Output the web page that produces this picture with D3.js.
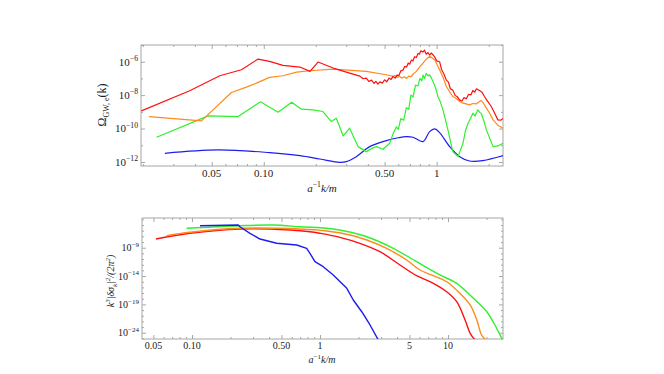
<!DOCTYPE html>
<html>
<head>
<meta charset="utf-8">
<script src="https://cdn.jsdelivr.net/npm/d3@7"></script>
<style>
  body { margin: 0; background: #fff; }
  text { font-family: "Liberation Serif", "Times New Roman", serif; fill: #222; }
</style>
</head>
<body>
<svg id="chart" width="664" height="374"></svg>
<script>
// ---- top panel: Omega_GW,e(k), values as log10 ----
const kRedTop = [0.0196, 0.0373, 0.0557, 0.0743, 0.0927, 0.108, 0.129, 0.162, 0.185, 0.206, 0.252, 0.314,
  0.36, 0.375, 0.392, 0.405, 0.42, 0.435, 0.445, 0.458, 0.47, 0.485, 0.50, 0.515, 0.53, 0.545, 0.56, 0.575,
  0.59, 0.605, 0.62, 0.639, 0.655, 0.67, 0.685, 0.698, 0.715, 0.73, 0.745, 0.763, 0.78, 0.795, 0.81, 0.834,
  0.85, 0.87, 0.891, 0.91, 0.93, 0.952, 0.975, 1.0, 1.04, 1.07, 1.10, 1.138, 1.17, 1.2, 1.24, 1.28, 1.32,
  1.36, 1.40, 1.44, 1.485, 1.53, 1.58, 1.62, 1.66, 1.70, 1.77, 1.83, 1.89, 1.95, 2.07, 2.17, 2.26, 2.35, 2.42];
const logRedTop = [-8.94, -7.74, -6.84, -6.48, -5.84, -5.98, -6.22, -6.32, -6.58, -6.02, -6.38, -6.68,
  -6.86, -7.02, -6.98, -7.18, -7.10, -7.30, -7.18, -7.34, -7.20, -7.28, -7.08, -7.20, -6.98, -7.06, -6.88, -6.98,
  -6.80, -6.82, -6.55, -6.50, -6.28, -6.32, -6.08, -6.15, -5.90, -5.95, -5.70, -5.75, -5.50, -5.55, -5.35, -5.42,
  -5.30, -5.55, -5.45, -5.60, -5.48, -5.58, -5.72, -5.95, -6.00, -6.50, -6.72, -7.10, -7.22, -7.62, -7.70, -8.02, -8.10,
  -8.30, -8.35, -8.15, -8.22, -7.95, -7.98, -7.72, -7.82, -7.62, -7.72, -7.82, -8.08, -8.30, -8.68, -9.10, -9.48, -9.50, -9.40];

const kOrangeTop = [0.0217, 0.0436, 0.065, 0.0794, 0.0907, 0.108, 0.129, 0.155, 0.185, 0.252, 0.392, 0.512,
  0.56, 0.575, 0.59, 0.611, 0.63, 0.65, 0.67, 0.69, 0.71, 0.73, 0.763, 0.80, 0.834, 0.87, 0.911, 0.974, 1.04,
  1.09, 1.138, 1.19, 1.24, 1.30, 1.36, 1.42, 1.48, 1.55, 1.62, 1.70, 1.76, 1.81, 1.87, 1.94, 2.03, 2.12, 2.26, 2.42];
const logOrangeTop = [-9.28, -9.54, -7.84, -7.52, -7.28, -6.94, -6.84, -6.62, -6.54, -6.44, -6.58, -6.78,
  -6.88, -6.82, -6.94, -6.88, -6.98, -6.90, -7.00, -6.86, -6.90, -6.75, -6.58, -6.30, -6.08, -5.85, -5.68, -5.88, -6.48,
  -6.95, -7.48, -7.80, -8.08, -8.20, -8.38, -8.48, -8.52, -8.58, -8.50, -8.52, -8.40, -8.32, -8.50, -8.78, -9.10, -9.48, -9.80, -9.98];

const kGreenTop = [0.024, 0.0477, 0.0711, 0.0957, 0.121, 0.145, 0.165, 0.193, 0.22, 0.246, 0.263, 0.288, 0.314,
  0.351, 0.392, 0.42, 0.448, 0.49, 0.535, 0.56, 0.585, 0.60, 0.62, 0.645, 0.668, 0.69, 0.71, 0.730, 0.755, 0.780,
  0.80, 0.82, 0.834, 0.85, 0.87, 0.891, 0.91, 0.93, 0.952, 0.985, 1.017, 1.05, 1.088, 1.162, 1.24, 1.33, 1.42,
  1.47, 1.52, 1.57, 1.62, 1.67, 1.73, 1.78, 1.81, 1.87, 1.94, 2.12, 2.26, 2.42];
const logGreenTop = [-10.52, -9.24, -9.28, -8.40, -9.02, -8.42, -8.84, -8.88, -8.98, -9.58, -9.38, -10.44, -9.98,
  -11.08, -11.38, -11.20, -11.08, -11.24, -10.88, -10.30, -9.90, -10.05, -9.40, -9.50, -8.75, -8.85, -8.00, -8.10, -7.40, -7.45,
  -7.00, -7.15, -6.80, -7.00, -6.70, -6.85, -6.78, -6.95, -7.18, -7.55, -8.08, -8.40, -8.88, -10.08, -11.38, -11.68, -10.88,
  -10.10, -9.68, -9.40, -9.08, -9.25, -8.88, -9.05, -9.08, -9.50, -10.08, -11.08, -11.04, -10.88];

const kBlueTop = [0.0268, 0.0544, 0.108, 0.162, 0.211, 0.275, 0.30, 0.343, 0.41, 0.512, 0.60, 0.668, 0.730,
  0.834, 0.911, 0.974, 1.04, 1.19, 1.36, 1.55, 1.85, 2.42];
const logBlueTop = [-11.48, -11.28, -11.44, -11.62, -11.82, -12.02, -11.98, -11.68, -11.08, -10.72, -10.55, -10.48, -10.52,
  -10.78, -10.18, -10.02, -10.24, -11.08, -11.68, -11.94, -11.92, -11.62];

// ---- bottom panel: k^3 |delta sigma_k|^2 / (2 pi^2), values as log10 ----
const kRedBot = [0.0523, 0.0965, 0.237, 0.583, 0.835, 1.0, 1.43, 2.05, 2.94, 4.22, 5.69, 7.68, 9.77, 11.7, 13.6, 14.9, 16.3];
const logRedBot = [-7.47, -6.46, -5.70, -5.88, -6.18, -6.46, -7.17, -8.22, -9.70, -12.05, -13.94, -15.28, -16.76, -18.52, -21.75, -24.1, -25.3];
const kOrangeBot = [0.0634, 0.0965, 0.237, 0.698, 1.13, 1.72, 2.32, 3.32, 4.75, 6.04, 7.68, 9.77, 12.4, 14.9, 16.8, 18.3, 19.8];
const logOrangeBot = [-6.88, -6.28, -5.58, -5.70, -6.05, -6.76, -7.64, -9.11, -11.17, -12.93, -13.94, -15.0, -17.04, -19.1, -21.75, -24.4, -25.3];
const kGreenBot = [0.0908, 0.237, 0.432, 0.698, 1.27, 2.32, 3.74, 5.69, 8.66, 11.7, 15.8, 20.1, 24.0, 26.7];
const logGreenBot = [-5.58, -5.12, -5.0, -5.30, -5.70, -7.06, -9.11, -11.47, -13.81, -15.28, -17.92, -20.29, -23.22, -25.3];
const kBlueBot = [0.1155, 0.23, 0.237, 0.284, 0.34, 0.459, 0.658, 0.787, 0.835, 0.914, 1.06, 1.27, 1.62, 1.82, 2.12, 2.46, 2.86];
const logBlueBot = [-5.12, -5.0, -5.30, -6.46, -7.47, -8.22, -8.52, -9.11, -9.99, -11.47, -12.35, -13.81, -16.16, -18.22, -20.29, -22.63, -25.3];

// ticks
const topXMajor = [0.05, 0.1, 0.5, 1];
const topXLabels = ["0.05", "0.10", "0.50", "1"];
const topXMinor = [0.02, 0.03, 0.04, 0.06, 0.07, 0.08, 0.09, 0.2, 0.3, 0.4, 0.6, 0.7, 0.8, 0.9, 2];
const topYMajorExp = [-6, -8, -10, -12];
const topYMinorExp = [-5, -7, -9, -11];

const botXMajor = [0.05, 0.1, 0.5, 1, 5, 10];
const botXLabels = ["0.05", "0.10", "0.50", "1", "5", "10"];
const botXMinor = [0.06, 0.07, 0.08, 0.09, 0.2, 0.3, 0.4, 0.6, 0.7, 0.8, 0.9, 2, 3, 4, 6, 7, 8, 9, 20];
const botYMajorExp = [-9, -14, -19, -24];
const botYMinorExp = [-4, -5, -6, -7, -8, -10, -11, -12, -13, -15, -16, -17, -18, -20, -21, -22, -23, -25];

const svg = d3.select("#chart");
const frameColor = "#a6a6a6";

function panel(cfg) {
  const x = d3.scaleLog().domain(cfg.xDomain).range([cfg.left, cfg.right]);
  const y = d3.scaleLog().domain(cfg.yDomain).range([cfg.bottom, cfg.top]);
  const g = svg.append("g");

  g.append("clipPath").attr("id", cfg.id)
    .append("rect")
    .attr("x", cfg.left).attr("y", cfg.top)
    .attr("width", cfg.right - cfg.left).attr("height", cfg.bottom - cfg.top);

  function ticks(axisFn, scale, vals, size, tr) {
    g.append("g").attr("transform", tr)
      .call(axisFn(scale).tickValues(vals).tickSize(size).tickFormat(""))
      .call(a => a.select(".domain").remove())
      .selectAll("line").attr("stroke", frameColor);
  }
  const yMaj = cfg.yMajorExp.map(e => Math.pow(10, e));
  const yMin = cfg.yMinorExp.map(e => Math.pow(10, e));
  ticks(d3.axisBottom, x, cfg.xMajor, -4, `translate(0,${cfg.bottom})`);
  ticks(d3.axisBottom, x, cfg.xMinor, -2, `translate(0,${cfg.bottom})`);
  ticks(d3.axisTop, x, cfg.xMajor, -4, `translate(0,${cfg.top})`);
  ticks(d3.axisTop, x, cfg.xMinor, -2, `translate(0,${cfg.top})`);
  ticks(d3.axisLeft, y, yMaj, -4, `translate(${cfg.left},0)`);
  ticks(d3.axisLeft, y, yMin, -2, `translate(${cfg.left},0)`);
  ticks(d3.axisRight, y, yMaj, -4, `translate(${cfg.right},0)`);
  ticks(d3.axisRight, y, yMin, -2, `translate(${cfg.right},0)`);

  g.append("rect")
    .attr("x", cfg.left).attr("y", cfg.top)
    .attr("width", cfg.right - cfg.left).attr("height", cfg.bottom - cfg.top)
    .attr("fill", "none").attr("stroke", frameColor).attr("stroke-width", 1);

  // x tick labels
  g.selectAll(".xl").data(cfg.xMajor).enter().append("text")
    .attr("x", d => x(d)).attr("y", cfg.bottom + cfg.xLabelDy)
    .attr("text-anchor", "middle").attr("font-size", cfg.fs)
    .text((d, i) => cfg.xLabels[i]);

  // y tick labels 10^n
  const yl = g.selectAll(".yl").data(cfg.yMajorExp).enter().append("text")
    .attr("x", cfg.left - 3).attr("y", d => y(Math.pow(10, d)) + cfg.fs * 0.35)
    .attr("text-anchor", "end").attr("font-size", cfg.fs);
  yl.append("tspan").text("10");
  yl.append("tspan").attr("dy", -cfg.fs * 0.42).attr("font-size", cfg.fs * 0.7)
    .text(d => "\u2212" + Math.abs(d));

  // curves
  const lines = g.append("g").attr("clip-path", `url(#${cfg.id})`);
  cfg.series.forEach(s => {
    const pts = d3.zip(s.k, s.v.map(e => Math.pow(10, e)));
    lines.append("path")
      .attr("d", d3.line().x(d => x(d[0])).y(d => y(d[1])).curve(s.curve || d3.curveLinear)(pts))
      .attr("fill", "none").attr("stroke", s.color).attr("stroke-width", cfg.lw)
      .attr("stroke-linejoin", "round");
  });
  return { x, y };
}

const red = "#ff1010", orange = "#ff8a1c", green = "#2ef02e", blue = "#1c1cf0";

panel({
  id: "clipTop", left: 141, right: 503, top: 45, bottom: 166,
  xDomain: [0.0195, 2.42], yDomain: [Math.pow(10, -12.24), Math.pow(10, -5)],
  xMajor: topXMajor, xLabels: topXLabels, xMinor: topXMinor,
  yMajorExp: topYMajorExp, yMinorExp: topYMinorExp,
  fs: 11, xLabelDy: 11, lw: 1.2,
  series: [
    { k: kBlueTop, v: logBlueTop, color: blue, curve: d3.curveCatmullRom },
    { k: kGreenTop, v: logGreenTop, color: green },
    { k: kOrangeTop, v: logOrangeTop, color: orange },
    { k: kRedTop, v: logRedTop, color: red }
  ]
});

panel({
  id: "clipBot", left: 142, right: 503, top: 218, bottom: 339,
  xDomain: [0.0407, 26.9], yDomain: [Math.pow(10, -25.1), Math.pow(10, -3.76)],
  xMajor: botXMajor, xLabels: botXLabels, xMinor: botXMinor,
  yMajorExp: botYMajorExp, yMinorExp: botYMinorExp,
  fs: 10, xLabelDy: 10, lw: 1.4,
  series: [
    { k: kRedBot, v: logRedBot, color: red, curve: d3.curveCatmullRom },
    { k: kOrangeBot, v: logOrangeBot, color: orange, curve: d3.curveCatmullRom },
    { k: kGreenBot, v: logGreenBot, color: green, curve: d3.curveCatmullRom },
    { k: kBlueBot, v: logBlueBot, color: blue }
  ]
});

// axis titles
function xTitle(yPos, fs) {
  const t = svg.append("text").attr("x", 322).attr("y", yPos)
    .attr("text-anchor", "middle").attr("font-size", fs);
  t.append("tspan").attr("font-style", "italic").text("a");
  t.append("tspan").attr("dy", -fs * 0.42).attr("font-size", fs * 0.7).text("\u22121");
  t.append("tspan").attr("dy", fs * 0.42).attr("font-style", "italic").text("k/m");
}
xTitle(192, 11);
xTitle(363, 10);

const yt1 = svg.append("text").attr("transform", "translate(106,105) rotate(-90)")
  .attr("text-anchor", "middle").attr("font-size", 12);
yt1.append("tspan").text("\u03A9");
yt1.append("tspan").attr("dy", 3).attr("font-size", 8).text("GW, e");
yt1.append("tspan").attr("dy", -3).text("(k)");

const yt2 = svg.append("text").attr("transform", "translate(114,281) rotate(-90)")
  .attr("text-anchor", "middle").attr("font-size", 10).attr("font-style", "italic");
yt2.append("tspan").text("k");
yt2.append("tspan").attr("dy", -4).attr("font-size", 7).text("3");
yt2.append("tspan").attr("dy", 4).text("|\u03B4\u03C3");
yt2.append("tspan").attr("dy", 2.5).attr("font-size", 7).text("k");
yt2.append("tspan").attr("dy", -2.5).text("|");
yt2.append("tspan").attr("dy", -4).attr("font-size", 7).text("2");
yt2.append("tspan").attr("dy", 4).text("/(2\u03C0");
yt2.append("tspan").attr("dy", -4).attr("font-size", 7).text("2");
yt2.append("tspan").attr("dy", 4).text(")");
</script>
</body>
</html>
